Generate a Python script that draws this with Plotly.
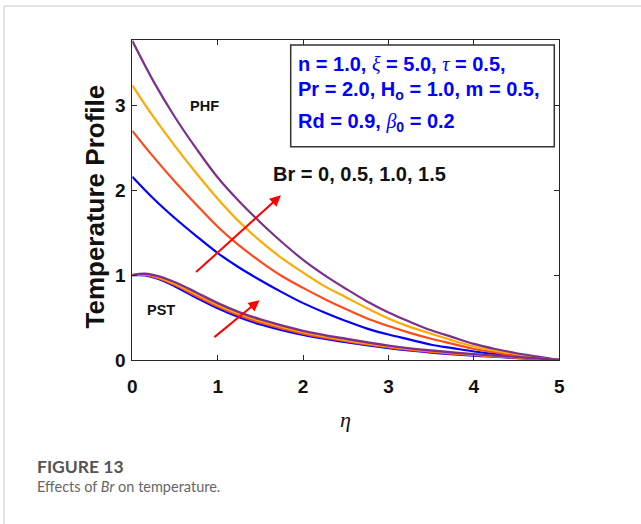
import plotly.graph_objects as go

W, H = 641, 524

# ---------------- data ----------------
eta_phf = [0, 0.25, 0.5, 0.75, 1.0, 1.25, 1.5, 1.75, 2.0, 2.25, 2.5, 2.75,
           3.0, 3.25, 3.5, 3.75, 4.0, 4.25, 4.5, 4.75, 5.0]
phf_br0 = [2.16, 1.90, 1.67, 1.46, 1.26, 1.09, 0.94, 0.80, 0.67, 0.56, 0.46, 0.37,
           0.30, 0.24, 0.18, 0.14, 0.10, 0.07, 0.04, 0.02, 0.0]
phf_br05 = [2.70, 2.39, 2.10, 1.83, 1.57, 1.35, 1.16, 0.99, 0.85, 0.72, 0.60, 0.49,
            0.40, 0.32, 0.25, 0.19, 0.13, 0.09, 0.05, 0.02, 0.0]
phf_br10 = [3.235, 2.86, 2.52, 2.20, 1.90, 1.63, 1.40, 1.20, 1.03, 0.87, 0.74, 0.61,
            0.49, 0.39, 0.31, 0.23, 0.16, 0.11, 0.07, 0.03, 0.0]
phf_br15 = [3.76, 3.28, 2.86, 2.49, 2.15, 1.87, 1.62, 1.39, 1.18, 1.00, 0.84, 0.69,
            0.56, 0.45, 0.35, 0.27, 0.19, 0.13, 0.08, 0.04, 0.0]

eta_pst = [0, 0.15, 0.3, 0.5, 0.75, 1.0, 1.25, 1.5, 2.0, 2.5, 3.0, 3.5, 4.0, 4.5, 5.0]
pst_br0 = [1.0, 0.998, 0.958, 0.868, 0.735, 0.61, 0.505, 0.42, 0.296, 0.21, 0.14, 0.088, 0.051, 0.024, 0.0]
pst_br05 = [1.0, 1.004, 0.968, 0.884, 0.755, 0.63, 0.525, 0.44, 0.312, 0.224, 0.15, 0.096, 0.057, 0.028, 0.0]
pst_br10 = [1.0, 1.010, 0.978, 0.900, 0.775, 0.65, 0.545, 0.46, 0.328, 0.236, 0.16, 0.104, 0.063, 0.032, 0.0]
pst_br15 = [1.0, 1.016, 0.988, 0.916, 0.795, 0.67, 0.565, 0.478, 0.344, 0.25, 0.17, 0.112, 0.069, 0.036, 0.0]

br_labels = ["Br = 0", "Br = 0.5", "Br = 1.0", "Br = 1.5"]
colors = ["#0000FF", "#FF4A1C", "#FFAA00", "#7E2F8E"]

x_ticks = [0, 1, 2, 3, 4, 5]
y_ticks = [0, 1, 2, 3]

# ---------------- layout helpers ----------------
def px(x):
    return x / W

def py(y):
    return 1 - y / H

PL, PR, PT, PB = 132.3, 559.3, 40, 360

fig = go.Figure()

phf = [phf_br0, phf_br05, phf_br10, phf_br15]
pst = [pst_br0, pst_br05, pst_br10, pst_br15]
for name, c, ys in zip(br_labels, colors, phf):
    fig.add_trace(go.Scatter(x=eta_phf, y=ys, mode="lines", name="PHF " + name,
                             line=dict(color=c, width=2.2, shape="spline", smoothing=1.0),
                             showlegend=False, hoverinfo="skip"))
for name, c, ys in zip(br_labels, colors, pst):
    fig.add_trace(go.Scatter(x=eta_pst, y=ys, mode="lines", name="PST " + name,
                             line=dict(color=c, width=2.4, shape="spline", smoothing=1.0),
                             showlegend=False, hoverinfo="skip"))

axis_common = dict(
    showgrid=False, zeroline=False, showline=True, linecolor="#262626", linewidth=1,
    mirror="ticks", ticks="inside", ticklen=5, tickcolor="#262626",
    tickfont=dict(family="Liberation Sans, Arial", size=19, color="#111111", weight="bold"),
)

fig.update_layout(
    width=W, height=H,
    margin=dict(l=0, r=0, t=0, b=0, autoexpand=False),
    paper_bgcolor="white", plot_bgcolor="white",
    xaxis=dict(domain=[px(PL), px(PR)], range=[0, 5], tickvals=x_ticks,
               ticklabelstandoff=9, **axis_common),
    yaxis=dict(domain=[py(PB), py(PT)], range=[0, 3.77], tickvals=y_ticks,
               ticklabelstandoff=2, **axis_common),
)

# card border (top and left)
fig.add_shape(type="line", xref="paper", yref="paper", x0=px(4), x1=1.0, y0=py(6), y1=py(6),
              line=dict(color="#c8c8c8", width=1))
fig.add_shape(type="line", xref="paper", yref="paper", x0=px(4), x1=px(4), y0=py(6), y1=0,
              line=dict(color="#c8c8c8", width=1))

# parameter box
fig.add_shape(type="rect", xref="paper", yref="paper",
              x0=px(290.7), x1=px(554.3), y0=py(146.7), y1=py(45),
              fillcolor="white", line=dict(color="#333333", width=1.5), layer="above")

serif = "font-family:Liberation Serif;font-weight:normal;font-style:italic"
box_font = dict(family="Liberation Sans, Arial", size=20, color="#0000FF", weight="bold")
box_lines = [
    (64, "n = 1.0, <span style='%s'>ξ</span> = 5.0, <span style='%s'>τ</span> = 0.5," % (serif, serif)),
    (91, "Pr = 2.0, H<sub>o</sub> = 1.0, m = 0.5,"),
    (122, "Rd = 0.9, <span style='%s'>β</span><sub>0</sub> = 0.2" % serif),
]
for yy, txt in box_lines:
    fig.add_annotation(xref="paper", yref="paper", x=px(296), y=py(yy), text=txt,
                       showarrow=False, xanchor="left", yanchor="middle", font=box_font)

lab_font = dict(family="Liberation Sans, Arial", size=14.5, color="#111111", weight="bold")
fig.add_annotation(x=0.84, y=2.99, xref="x", yref="y", text="PHF", showarrow=False, font=lab_font)
fig.add_annotation(x=0.34, y=0.59, xref="x", yref="y", text="PST", showarrow=False, font=lab_font)
fig.add_annotation(x=2.66, y=2.19, xref="x", yref="y", text="Br = 0, 0.5, 1.0, 1.5", showarrow=False,
                   font=dict(family="Liberation Sans, Arial", size=20, color="#111111", weight="bold"))

# red arrows
for (x0, y0, x1, y1) in [(0.73, 1.02, 1.74, 1.94), (0.944, 0.255, 1.49, 0.705)]:
    fig.add_annotation(x=x1, y=y1, ax=x0, ay=y0, xref="x", yref="y", axref="x", ayref="y",
                       text="", showarrow=True, arrowhead=2, arrowsize=1.1, arrowwidth=2,
                       arrowcolor="#FF0000", standoff=0, startstandoff=0)

# axis titles
fig.add_annotation(xref="paper", yref="paper", x=px(94), y=py(206.5), text="Temperature Profile",
                   textangle=-90, showarrow=False, xanchor="center", yanchor="middle",
                   font=dict(family="Liberation Sans, Arial", size=26, color="#111111", weight="bold"))
fig.add_annotation(xref="paper", yref="paper", x=px(345), y=py(419), text="<i>η</i>",
                   showarrow=False, xanchor="center", yanchor="middle",
                   font=dict(family="Liberation Serif, Times New Roman", size=22, color="#111111"))

# caption
fig.add_annotation(xref="paper", yref="paper", x=px(35), y=py(466), text="FIGURE 13",
                   showarrow=False, xanchor="left", yanchor="middle",
                   font=dict(family="Lato, Open Sans", size=17.5, color="#555555", weight="bold"))
fig.add_annotation(xref="paper", yref="paper", x=px(35), y=py(486), text="Effects of <i>Br</i> on temperature.",
                   showarrow=False, xanchor="left", yanchor="middle",
                   font=dict(family="Lato, Open Sans", size=14.5, color="#666666"))

fig.write_html("out.html", config={"displayModeBar": False},
               post_script="document.body.style.margin='0';")
